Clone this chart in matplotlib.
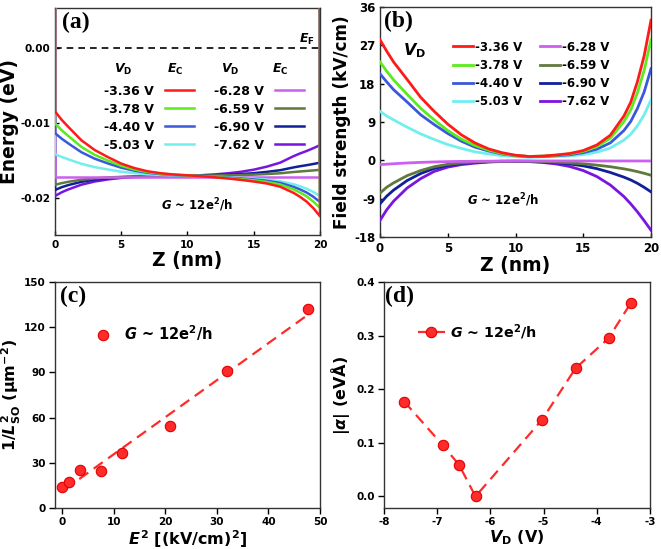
import numpy as np
import matplotlib
matplotlib.use('Agg')
import matplotlib.pyplot as plt
from matplotlib.ticker import FormatStrFormatter

plt.rcParams['font.family'] = ['DejaVu Sans']
plt.rcParams['font.weight'] = 'bold'
plt.rcParams['axes.labelweight'] = 'bold'
plt.rcParams['axes.unicode_minus'] = False
plt.rcParams['mathtext.fontset'] = 'custom'
plt.rcParams['mathtext.rm'] = 'DejaVu Sans:bold'
plt.rcParams['mathtext.it'] = 'DejaVu Sans:italic:bold'
plt.rcParams['mathtext.bf'] = 'DejaVu Sans:bold'

# ---- data ----
vd_labels = ['-3.36 V', '-3.78 V', '-4.40 V', '-5.03 V',
             '-6.28 V', '-6.59 V', '-6.90 V', '-7.62 V']
colors = ['#ff1a1a', '#5bea1c', '#3a58dc', '#72eeee',
          '#cc5ff0', '#5f7a3c', '#10209a', '#7a14e0']

z = [0, 0.5, 1, 2, 3, 4, 5, 6, 7, 8, 9, 10, 11, 12, 13, 14, 15, 16, 17, 18, 18.5, 19, 19.5, 20]

# conduction band edge E_C (eV), panel (a)
ec_336 = [-0.0084, -0.00952, -0.01046, -0.01227, -0.01356, -0.01451, -0.01537, -0.01597, -0.0164, -0.01666,
          -0.01683, -0.01693, -0.01705, -0.01719, -0.01735, -0.01754, -0.01776, -0.01803, -0.01846, -0.01927,
          -0.01981, -0.02046, -0.02132, -0.0224]
ec_378 = [-0.0100, -0.01091, -0.01168, -0.01315, -0.0142, -0.01497, -0.01567, -0.01616, -0.01651, -0.01672,
          -0.01686, -0.01694, -0.01704, -0.01715, -0.01728, -0.01743, -0.0176, -0.01782, -0.01816, -0.01881,
          -0.01924, -0.01975, -0.02044, -0.0213]
ec_440 = [-0.0113, -0.01204, -0.01267, -0.01386, -0.01472, -0.01535, -0.01592, -0.01632, -0.0166, -0.01677,
          -0.01689, -0.01695, -0.01704, -0.01712, -0.01723, -0.01735, -0.01749, -0.01767, -0.01795, -0.01847,
          -0.01882, -0.01924, -0.0198, -0.0205]
ec_503 = [-0.0141, -0.01448, -0.0148, -0.0154, -0.01584, -0.01616, -0.01645, -0.01665, -0.0168, -0.01688,
          -0.01694, -0.01698, -0.01703, -0.0171, -0.01718, -0.01727, -0.01738, -0.01751, -0.01773, -0.01813,
          -0.0184, -0.01873, -0.01916, -0.0197]
ec_628 = [-0.0171, -0.0171, -0.0171, -0.0171, -0.0171, -0.0171, -0.0171, -0.0171, -0.0171, -0.0171,
          -0.0171, -0.0171, -0.0171, -0.0171, -0.0171, -0.0171, -0.0171, -0.0171, -0.0171, -0.0171,
          -0.0171, -0.0171, -0.0171, -0.0171]
ec_659 = [-0.0182, -0.01798, -0.0178, -0.01752, -0.01734, -0.01722, -0.01714, -0.01708, -0.01705, -0.01703,
          -0.01701, -0.017, -0.01698, -0.01696, -0.01694, -0.0169, -0.01684, -0.01676, -0.01666, -0.01649,
          -0.01642, -0.01635, -0.01628, -0.0162]
ec_690 = [-0.0189, -0.01852, -0.01824, -0.0178, -0.01751, -0.01732, -0.01719, -0.01711, -0.01707, -0.01704,
          -0.01702, -0.01699, -0.01697, -0.01692, -0.01686, -0.01677, -0.01665, -0.01647, -0.01625, -0.01588,
          -0.01572, -0.01558, -0.01542, -0.01525]
ec_762 = [-0.0197, -0.0192, -0.01882, -0.01818, -0.01776, -0.01748, -0.01728, -0.01717, -0.0171, -0.01706,
          -0.01703, -0.01698, -0.01692, -0.01682, -0.01667, -0.01647, -0.01618, -0.01577, -0.01524, -0.01438,
          -0.01401, -0.01368, -0.01331, -0.0129]
ec_wall = 0.01  # hard-wall edges drawn at z = 0 and z = 20

# field strength (kV/cm), panel (b)
f_336 = [28.3, 25.6, 23.1, 19.0, 14.8, 11.5, 8.5, 6.0, 4.1, 2.7, 1.8, 1.2, 0.9, 1.0, 1.25, 1.6, 2.3, 3.6, 5.9,
         10.4, 13.6, 18.5, 24.6, 32.9]
f_378 = [23.1, 20.9, 18.9, 15.5, 12.2, 9.5, 7.0, 5.0, 3.5, 2.4, 1.6, 1.1, 0.9, 1.0, 1.2, 1.5, 2.1, 3.2, 5.2,
         9.1, 11.8, 15.9, 21.2, 28.3]
f_440 = [20.3, 18.4, 16.6, 13.7, 10.7, 8.4, 6.3, 4.5, 3.1, 2.2, 1.5, 1.1, 0.9, 0.9, 1.1, 1.3, 1.8, 2.6, 4.1,
         7.0, 9.1, 12.2, 16.1, 21.5]
f_503 = [11.5, 10.4, 9.5, 7.8, 6.2, 4.9, 3.7, 2.8, 2.0, 1.5, 1.1, 0.9, 0.7, 0.8, 0.9, 1.05, 1.35, 1.9, 2.9,
         4.75, 6.1, 8.1, 10.7, 14.2]
f_628 = [-1.0, -0.9, -0.8, -0.62, -0.48, -0.38, -0.3, -0.25, -0.22, -0.2, -0.18, -0.17, -0.16, -0.15, -0.15,
         -0.15, -0.15, -0.15, -0.15, -0.15, -0.15, -0.15, -0.15, -0.15]
f_659 = [-7.7, -6.3, -5.3, -3.6, -2.4, -1.5, -0.94, -0.6, -0.4, -0.27, -0.2, -0.18, -0.2, -0.28, -0.42, -0.6,
         -0.82, -1.12, -1.5, -2.0, -2.3, -2.65, -3.05, -3.5]
f_690 = [-10.2, -8.4, -7.0, -4.75, -3.1, -1.9, -1.2, -0.76, -0.5, -0.32, -0.24, -0.22, -0.25, -0.36, -0.55,
         -0.85, -1.3, -1.95, -2.85, -3.95, -4.6, -5.4, -6.35, -7.4]
f_762 = [-14.1, -11.6, -9.6, -6.5, -4.3, -2.6, -1.6, -1.0, -0.66, -0.4, -0.28, -0.25, -0.3, -0.5, -0.85, -1.45,
         -2.4, -3.8, -5.8, -8.5, -10.2, -12.1, -14.2, -16.4]

# panel (c)
e_sq = [0.0, 1.3, 3.4, 7.55, 11.5, 21.0, 31.9, 47.6]
inv_lso2 = [13.9, 17.2, 24.9, 24.3, 36.6, 54.7, 90.7, 131.9]

# panel (d)
vd = [-7.62, -6.90, -6.59, -6.28, -5.03, -4.40, -3.78, -3.36]
alpha = [0.177, 0.096, 0.059, 0.0, 0.143, 0.239, 0.295, 0.361]

ec_all = [ec_336, ec_378, ec_440, ec_503, ec_628, ec_659, ec_690, ec_762]
f_all = [f_336, f_378, f_440, f_503, f_628, f_659, f_690, f_762]

W, H = 661, 549
fig = plt.figure(figsize=(W / 100, H / 100), dpi=100)


def box(l, t, r, b):
    return [l / W, 1 - b / H, (r - l) / W, (b - t) / H]


ax_a = fig.add_axes(box(55, 8, 320, 235))
ax_b = fig.add_axes(box(380, 7, 651, 237))
ax_c = fig.add_axes(box(55, 282, 320, 508))
ax_d = fig.add_axes(box(384, 282, 650, 508))

g_text = r'$G$ ~ 12e$^2$/h'
red = '#ff2a2a'

for ax in (ax_a, ax_b, ax_c, ax_d):
    ax.tick_params(labelsize=7.5, width=1, length=3, top=False, right=False)
    for s in ax.spines.values():
        s.set_linewidth(1.0)
        s.set_color('#333333')

# ---- (a) ----
handles = []
for i in range(8):
    zz = [z[0]] + z + [z[-1]]
    ee = [ec_wall] + ec_all[i] + [ec_wall]
    h, = ax_a.plot(zz, ee, color=colors[i], lw=1.8, zorder=10 - i, label=vd_labels[i])
    handles.append(h)
ax_a.axhline(0, color='black', lw=1.2, ls=(0, (4, 3)))
ax_a.set_xlim(0, 20)
ax_a.set_ylim(-0.0249, 0.0054)
ax_a.set_xticks([0, 5, 10, 15, 20])
ax_a.set_yticks([0.0, -0.01, -0.02])
ax_a.yaxis.set_major_formatter(FormatStrFormatter('%.2f'))
ax_a.tick_params(direction='in')
ax_a.set_xlabel('Z (nm)', fontsize=13.5, labelpad=1)
ax_a.set_ylabel('Energy (eV)', fontsize=13.5, labelpad=1)
ax_a.legend(handles, vd_labels, ncol=2, markerfirst=False, frameon=False, fontsize=9,
            loc='upper left', bbox_to_anchor=(0.16, 0.69), borderpad=0, handlelength=2.3,
            handletextpad=0.9, labelspacing=0.4, columnspacing=1.6)
for xp, txt in [(0.257, r'$V_\mathrm{D}$'), (0.453, r'$E_\mathrm{C}$'),
                (0.66, r'$V_\mathrm{D}$'), (0.849, r'$E_\mathrm{C}$')]:
    ax_a.text(xp, 0.73, txt, transform=ax_a.transAxes, ha='center', va='center', fontsize=9)
ax_a.text(0.95, 0.86, r'$E_\mathrm{F}$', transform=ax_a.transAxes, ha='center', va='center', fontsize=9)
ax_a.text(0.536, 0.13, g_text, transform=ax_a.transAxes, ha='center', va='center', fontsize=8.5)
ax_a.text(0.025, 0.985, '(a)', transform=ax_a.transAxes, ha='left', va='top', fontsize=17,
          family='Liberation Serif', weight='bold')

# ---- (b) ----
hb = []
for i in range(8):
    h, = ax_b.plot(z, f_all[i], color=colors[i], lw=2.0, zorder=10 - i)
    hb.append(h)
ax_b.set_xlim(0, 20)
ax_b.set_ylim(-18, 36)
ax_b.set_xticks([0, 5, 10, 15, 20])
ax_b.set_yticks([-18, -9, 0, 9, 18, 27, 36])
ax_b.tick_params(direction='in', labelsize=8.5)
ax_b.set_xlabel('Z (nm)', fontsize=13.5, labelpad=1)
ax_b.set_ylabel('Field strength (kV/cm)', fontsize=12.2, labelpad=2)
ax_b.legend(hb, vd_labels, ncol=2, frameon=False, fontsize=8.5, loc='upper left',
            bbox_to_anchor=(0.247, 0.88), borderpad=0, handlelength=1.7, handletextpad=0.15,
            labelspacing=0.44, columnspacing=1.5)
ax_b.text(0.085, 0.81, r'$V_\mathrm{D}$', transform=ax_b.transAxes, ha='left', va='center', fontsize=11.5)
ax_b.text(0.454, 0.16, g_text, transform=ax_b.transAxes, ha='center', va='center', fontsize=8.5)
ax_b.text(0.015, 0.985, '(b)', transform=ax_b.transAxes, ha='left', va='top', fontsize=17,
          family='Liberation Serif', weight='bold')

# ---- (c) ----
k, b0 = np.polyfit(e_sq, inv_lso2, 1)
xf = np.array([0.5, max(e_sq)])
ax_c.plot(xf, k * xf + b0, color=red, lw=1.6, ls=(0, (5, 3)))
ax_c.plot(e_sq, inv_lso2, 'o', ms=7.5, color=red, mec='#e00000', mew=0.8, label=g_text)
ax_c.set_xlim(-1.4, 50)
ax_c.set_ylim(0, 150)
ax_c.set_xticks([0, 10, 20, 30, 40, 50])
ax_c.set_yticks([0, 30, 60, 90, 120, 150])
ax_c.tick_params(length=4, pad=2.5)
ax_c.set_xlabel(r'$E^2$ [(kV/cm)$^2$]', fontsize=11.5, labelpad=1)
ax_c.set_ylabel(r'1/$L^2_\mathrm{SO}$ (μm$^{-2}$)', fontsize=11.5, labelpad=1)
ax_c.legend(loc='upper left', bbox_to_anchor=(0.10, 0.85), frameon=False, fontsize=10.5,
            borderpad=0, handletextpad=0.4)
ax_c.text(0.02, 0.985, '(c)', transform=ax_c.transAxes, ha='left', va='top', fontsize=17,
          family='Liberation Serif', weight='bold')

# ---- (d) ----
ax_d.plot(vd, alpha, 'o', ls=(0, (5, 3)), lw=1.6, ms=7.5, color=red, mec='#e00000',
          mew=0.8, label=g_text)
ax_d.set_xlim(-8, -3)
ax_d.set_ylim(-0.0216, 0.4)
ax_d.set_xticks([-8, -7, -6, -5, -4, -3])
ax_d.set_yticks([0.0, 0.1, 0.2, 0.3, 0.4])
ax_d.yaxis.set_major_formatter(FormatStrFormatter('%.1f'))
ax_d.tick_params(length=4, pad=2.5)
ax_d.set_xlabel(r'$V_\mathrm{D}$ (V)', fontsize=11.5, labelpad=1)
ax_d.set_ylabel(r'|$\alpha$| (eVÅ)', fontsize=11.5, labelpad=3)
ax_d.legend(loc='upper left', bbox_to_anchor=(0.10, 0.855), frameon=False, fontsize=10.3,
            borderpad=0, handlelength=1.9, handletextpad=0.35)
ax_d.text(0.005, 0.985, '(d)', transform=ax_d.transAxes, ha='left', va='top', fontsize=17,
          family='Liberation Serif', weight='bold')

fig.savefig('out.png', dpi=100)
